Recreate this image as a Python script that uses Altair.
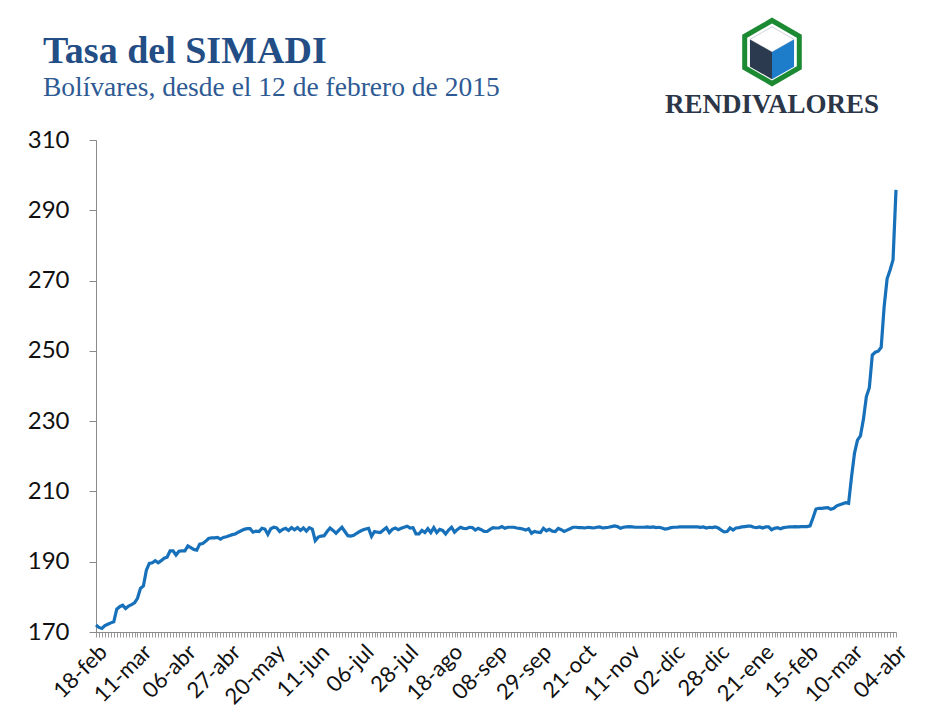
import altair as alt
import pandas as pd

# Daily SIMADI rate (business days)
values = [
    172.0, 171.3, 171.0, 171.8, 172.2, 172.6, 172.9, 176.5, 177.2, 177.6,
    176.7, 177.4, 177.8, 178.3, 179.6, 182.4, 183.1, 187.6, 189.5, 189.7,
    190.3, 189.7, 190.3, 191.0, 191.3, 193.1, 193.1, 191.9, 193.0, 193.1,
    193.1, 194.5, 194.0, 193.5, 193.3, 195.0, 195.2, 195.8, 196.6, 196.8,
    196.8, 196.9, 196.4, 196.9, 197.1, 197.4, 197.7, 197.9, 198.4, 198.8,
    199.2, 199.4, 199.4, 198.4, 198.7, 198.6, 199.5, 199.3, 197.8, 199.4,
    199.8, 199.6, 198.6, 199.2, 199.5, 198.9, 199.7, 199.1, 199.7, 198.9,
    199.6, 198.7, 199.7, 199.3, 196.0, 197.0, 197.3, 197.4, 198.6, 199.6,
    198.9, 198.1, 199.0, 199.8, 198.6, 197.4, 197.3, 197.5, 198.1, 198.6,
    199.0, 199.3, 199.5, 197.2, 198.6, 198.4, 198.3, 199.0, 199.7, 198.3,
    199.2, 199.6, 199.1, 199.5, 199.8, 200.1, 199.6, 199.7, 197.9, 197.9,
    198.9, 198.3, 199.4, 198.3, 199.7, 198.3, 199.2, 198.9, 197.9, 199.0,
    199.8, 198.4, 199.2, 199.8, 199.5, 199.4, 199.8, 199.7, 199.0, 199.5,
    199.1, 198.6, 198.6, 199.2, 199.7, 199.6, 199.6, 200.0, 199.5, 199.8,
    199.8, 199.8, 199.6, 199.5, 199.3, 199.0, 199.4, 198.1, 198.6, 198.4,
    198.3, 199.5, 198.8, 199.2, 198.7, 198.6, 199.5, 199.1, 198.6, 199.0,
    199.4, 199.8, 199.8, 199.7, 199.7, 199.6, 199.8, 199.7, 199.6, 199.8,
    199.9, 199.6, 199.7, 199.8, 200.0, 200.2, 200.0, 199.5, 199.8, 199.9,
    200.0, 199.9, 199.8, 199.8, 199.8, 199.8, 199.9, 199.8, 199.9, 199.7,
    199.8, 199.6, 199.3, 199.4, 199.7, 199.8, 199.8, 199.9, 199.9, 199.9,
    199.9, 199.9, 199.9, 199.9, 199.8, 199.9, 199.6, 199.8, 199.7, 199.9,
    199.6, 199.0, 198.5, 198.6, 199.6, 199.0, 199.6, 199.7, 199.9, 200.0,
    200.1, 200.1, 199.8, 199.7, 199.9, 199.6, 199.9, 199.9, 199.1, 199.5,
    199.7, 199.4, 199.7, 199.8, 199.9, 199.9, 200.0, 199.9, 200.0, 200.0,
    200.0, 200.2, 202.5, 205.0, 205.2, 205.2, 205.3, 205.4, 204.9, 205.2,
    205.9, 206.2, 206.5, 206.8, 206.6, 214.2, 220.9, 224.6, 225.8, 230.5,
    237.0, 239.5, 248.8, 249.6, 249.9, 251.0, 262.6, 270.5, 273.0, 275.9, 295.8,
]

tick_labels = ["18-feb", "11-mar", "06-abr", "27-abr", "20-may", "11-jun", "06-jul",
               "28-jul", "18-ago", "08-sep", "29-sep", "21-oct", "11-nov", "02-dic",
               "28-dic", "21-ene", "15-feb", "10-mar", "04-abr"]
label_step = 15
y_ticks = [170, 190, 210, 230, 250, 270, 290, 310]

title_text = "Tasa del SIMADI"
subtitle_text = "Bolívares, desde el 12 de febrero de 2015"
logo_text = "RENDIVALORES"

df = pd.DataFrame({"idx": list(range(len(values))), "tasa": values})

labels_js = "[" + ",".join(f"'{l}'" for l in tick_labels) + "]"
label_expr = f"datum.value % {label_step} == 0 ? {labels_js}[datum.value / {label_step}] : ''"

W, H = 800, 492
OX, OY = 96, 140  # plot origin on page

line = alt.Chart(df).mark_line(color="#1770BA", strokeWidth=3.2).encode(
    x=alt.X("idx:Q",
            scale=alt.Scale(domain=[0, len(values) - 1], nice=False, zero=False),
            axis=alt.Axis(values=list(range(len(values))), labelExpr=label_expr,
                          labelAngle=-45, labelOverlap=False, labelFlush=False,
                          labelBound=False, grid=False, tickSize=5,
                          tickColor="#9a9a9a", domainColor="#8a8a8a",
                          labelFont="Lato", labelFontSize=22, labelColor="#111111",
                          labelPadding=4, title=None)),
    y=alt.Y("tasa:Q",
            scale=alt.Scale(domain=[170, 310], nice=False, zero=False),
            axis=alt.Axis(values=y_ticks, grid=False, tickSize=7,
                          tickColor="#8a8a8a", domainColor="#8a8a8a",
                          labelFont="Lato", labelFontSize=24, labelColor="#111111",
                          labelPadding=20, title=None)),
)

one = pd.DataFrame({"t": [title_text], "s": [subtitle_text], "l": [logo_text]})

title = alt.Chart(one).mark_text(
    font="Liberation Serif", fontSize=38, fontWeight="bold", color="#234D85",
    align="left", baseline="alphabetic").encode(
    x=alt.value(43 - OX), y=alt.value(63 - OY), text="t:N")

subtitle = alt.Chart(one).mark_text(
    font="Liberation Serif", fontSize=27.5, color="#2E5A94",
    align="left", baseline="alphabetic").encode(
    x=alt.value(43 - OX), y=alt.value(96 - OY), text="s:N")

logo_word = alt.Chart(one).mark_text(
    font="Liberation Serif", fontSize=27, fontWeight="bold", color="#2B3648",
    align="center", baseline="alphabetic").encode(
    x=alt.value(772 - OX), y=alt.value(113 - OY), text="l:N")

HEX = "M0,-0.9 L0.78,-0.45 L0.78,0.45 L0,0.9 L-0.78,0.45 L-0.78,-0.45 Z"
LEFT = "M-0.63,-0.36 L0,0 L0,0.78 L-0.63,0.42 Z"
RIGHT = "M0,0 L0.63,-0.36 L0.63,0.42 L0,0.78 Z"
TOP = "M0,-0.72 L0.63,-0.36 L0,0 L-0.63,-0.36 Z"

def logo_shape(path, **kw):
    return alt.Chart(one).mark_point(shape=path, size=4900, opacity=1, **kw).encode(
        x=alt.value(772 - OX), y=alt.value(52 - OY))

hexagon = logo_shape(HEX, filled=False, color="#1C8A33", strokeWidth=5)
top_face = logo_shape(TOP, filled=True, color="#FFFFFF", stroke="#D0D4DA", strokeWidth=1)
left_face = logo_shape(LEFT, filled=True, color="#2B3A4E", strokeWidth=0)
right_face = logo_shape(RIGHT, filled=True, color="#1E7DCB", strokeWidth=0)

chart = alt.layer(line, title, subtitle, logo_word, hexagon, top_face, left_face, right_face).properties(
    width=W, height=H,
    background="white",
    autosize=alt.AutoSizeParams(type="none"),
    padding={"left": OX - 8, "top": OY - 8, "right": 24, "bottom": 80},
).configure_view(stroke="transparent", strokeWidth=0, strokeOpacity=0)

chart.save("out.html", embed_options={"renderer": "svg", "actions": False})
